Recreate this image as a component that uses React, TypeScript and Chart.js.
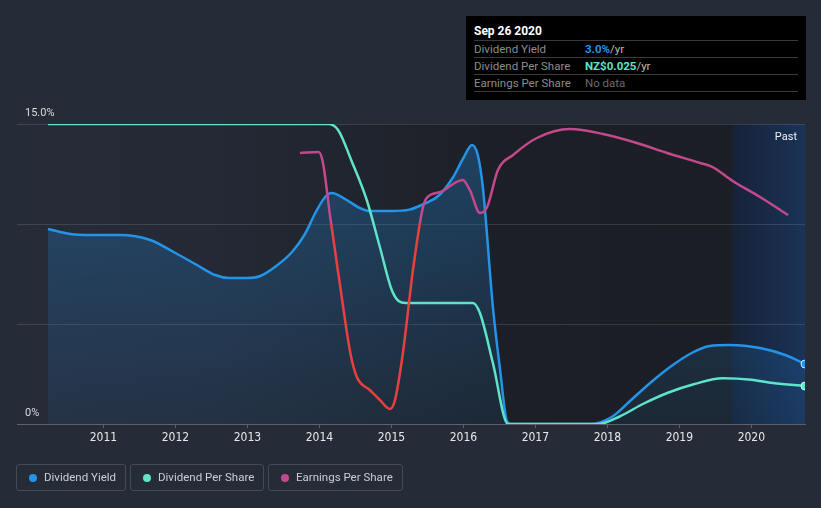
import React, { useEffect, useRef } from 'react';
import { Chart, registerables } from 'chart.js';

Chart.register(...registerables);

// ---- Data ----
const yearTicks = [2011, 2012, 2013, 2014, 2015, 2016, 2017, 2018, 2019, 2020];
const yTickLabels: Record<number, string> = { 15: '15.0%', 0: '0%' };

// Dividend Yield (%)
const yieldX = [2010.23, 2010.54, 2010.82, 2011.23, 2011.65, 2012.0, 2012.3, 2012.55, 2012.75, 2013.0, 2013.18, 2013.4, 2013.62, 2013.8, 2013.95, 2014.08, 2014.17, 2014.38, 2014.56, 2014.7, 2015.0, 2015.25, 2015.45, 2015.65, 2015.85, 2016.0, 2016.12, 2016.2, 2016.27, 2016.41, 2016.51, 2016.6, 2016.65, 2017.76, 2018.06, 2018.33, 2018.61, 2018.89, 2019.17, 2019.42, 2019.7, 2020.12, 2020.47, 2020.745];
const yieldY = [9.75, 9.5, 9.45, 9.45, 9.2, 8.55, 7.95, 7.45, 7.3, 7.3, 7.4, 7.9, 8.6, 9.5, 10.6, 11.35, 11.55, 11.2, 10.8, 10.65, 10.65, 10.72, 11.0, 11.4, 12.3, 13.3, 13.95, 13.45, 11.85, 5.85, 2.7, 0.2, 0, 0, 0.35, 1.2, 2.1, 2.9, 3.55, 3.9, 3.95, 3.8, 3.45, 3.0];

// Dividend Per Share (NZ$)
const dpsX = [2010.23, 2014.12, 2014.26, 2014.45, 2014.66, 2014.84, 2015.0, 2015.1, 2015.2, 2016.13, 2016.23, 2016.41, 2016.62, 2017.88, 2018.17, 2018.5, 2018.85, 2019.2, 2019.6, 2020.0, 2020.3, 2020.745];
const dpsY = [0.2, 0.2, 0.196, 0.175, 0.149, 0.118, 0.09, 0.082, 0.0807, 0.0807, 0.074, 0.0407, 0, 0, 0.005, 0.0135, 0.021, 0.0265, 0.0305, 0.0295, 0.0273, 0.0253];

// Earnings Per Share (NZ$)
const epsX = [2013.73, 2013.99, 2014.05, 2014.15, 2014.29, 2014.43, 2014.52, 2014.7, 2014.84, 2014.98, 2015.05, 2015.16, 2015.3, 2015.43, 2015.49, 2015.68, 2015.99, 2016.09, 2016.23, 2016.33, 2016.48, 2016.69, 2017.02, 2017.48, 2017.94, 2018.41, 2018.83, 2019.29, 2019.46, 2019.74, 2020.12, 2020.51];
const epsY = [0.071, 0.072, 0.061, 0.007, -0.063, -0.129, -0.153, -0.166, -0.176, -0.185, -0.176, -0.129, -0.046, 0.014, 0.026, 0.032, 0.044, 0.034, 0.011, 0.017, 0.054, 0.069, 0.086, 0.095, 0.09, 0.081, 0.071, 0.061, 0.057, 0.043, 0.027, 0.009];

const pastStart = 2019.73;

const BLUE = '#2394e8';
const TEAL = '#5fe3c9';
const MAGENTA = '#c4488c';
const RED = '#e8403f';
const FONT = 'Roboto, "Noto Sans", sans-serif';

const toPts = (xs: number[], ys: number[]) => xs.map((x, i) => ({ x, y: ys[i] }));

const bgPlugin = {
  id: 'bgPlugin',
  beforeDraw(chart: any) {
    const { ctx, chartArea: a, scales } = chart;
    if (!a) return;
    ctx.save();
    const g = ctx.createLinearGradient(a.left, 0, a.right, 0);
    g.addColorStop(0, '#262b38');
    g.addColorStop(0.25, '#242935');
    g.addColorStop(0.62, '#1c1f26');
    g.addColorStop(1, '#1b1e24');
    ctx.fillStyle = g;
    ctx.fillRect(a.left, a.top, a.right - a.left, a.bottom - a.top);
    const px = scales.x.getPixelForValue(pastStart);
    const g2 = ctx.createLinearGradient(px, 0, a.right, 0);
    g2.addColorStop(0, '#172236');
    g2.addColorStop(1, '#1a3358');
    ctx.fillStyle = g2;
    ctx.fillRect(px, a.top, a.right - px, a.bottom - a.top);
    ctx.restore();
  },
  afterDatasetsDraw(chart: any) {
    const { ctx, chartArea: a } = chart;
    ctx.save();
    ctx.fillStyle = '#f0f0f0';
    ctx.font = '11px ' + FONT;
    ctx.textAlign = 'right';
    ctx.textBaseline = 'middle';
    ctx.fillText('Past', a.right - 8, a.top + 13);
    ctx.restore();
  },
};

export default function App() {
  const ref = useRef<HTMLCanvasElement>(null);

  useEffect(() => {
    document.body.style.margin = '0';
    document.body.style.background = '#262b38';
    const canvas = ref.current!;
    const chart = new Chart(canvas, {
      type: 'line',
      data: {
        datasets: [
          {
            label: 'Dividend Yield',
            data: toPts(yieldX, yieldY),
            yAxisID: 'y',
            borderColor: BLUE,
            borderWidth: 2.5,
            cubicInterpolationMode: 'monotone',
            fill: 'origin',
            backgroundColor: (c: any) => {
              const a = c.chart.chartArea;
              if (!a) return 'rgba(33,150,243,0.2)';
              const g = c.chart.ctx.createLinearGradient(0, a.top, 0, a.bottom);
              g.addColorStop(0, 'rgba(33,150,243,0.3)');
              g.addColorStop(1, 'rgba(33,150,243,0.08)');
              return g;
            },
            pointRadius: (c: any) => (c.dataIndex === yieldX.length - 1 ? 4 : 0),
            pointBackgroundColor: BLUE,
            pointBorderColor: '#cfe6fa',
            pointBorderWidth: 1,
            order: 3,
          },
          {
            label: 'Dividend Per Share',
            data: toPts(dpsX, dpsY),
            yAxisID: 'yDps',
            borderColor: TEAL,
            borderWidth: 2.5,
            cubicInterpolationMode: 'monotone',
            fill: false,
            pointRadius: (c: any) => (c.dataIndex === dpsX.length - 1 ? 4 : 0),
            pointBackgroundColor: TEAL,
            pointBorderColor: '#d6f7f0',
            pointBorderWidth: 1,
            order: 2,
          },
          {
            label: 'Earnings Per Share',
            data: toPts(epsX, epsY),
            yAxisID: 'yEps',
            borderColor: (c: any) => {
              const ch = c.chart;
              const a = ch.chartArea;
              if (!a || !ch.scales.yEps) return MAGENTA;
              const y0 = ch.scales.yEps.getPixelForValue(0);
              const s = Math.min(1, Math.max(0, (y0 - a.top) / (a.bottom - a.top)));
              const g = ch.ctx.createLinearGradient(0, a.top, 0, a.bottom);
              g.addColorStop(0, MAGENTA);
              g.addColorStop(s, MAGENTA);
              g.addColorStop(s, RED);
              g.addColorStop(1, RED);
              return g;
            },
            borderWidth: 2.5,
            cubicInterpolationMode: 'monotone',
            fill: false,
            pointRadius: 0,
            order: 1,
          },
        ],
      },
      options: {
        animation: false,
        responsive: true,
        maintainAspectRatio: false,
        layout: { padding: { left: 17, right: 16, top: 124, bottom: 0 } },
        plugins: { legend: { display: false }, tooltip: { enabled: false } },
        scales: {
          x: {
            type: 'linear',
            min: 2009.8,
            max: 2020.745,
            afterFit: (s: any) => { s.height = 84; },
            afterBuildTicks: (s: any) => { s.ticks = yearTicks.map((v) => ({ value: v })); },
            border: { color: '#5b606b', width: 1 },
            grid: { drawOnChartArea: false, drawTicks: true, tickLength: 4, color: '#5b606b' },
            ticks: {
              color: '#e8e8e8',
              font: { family: '"Liberation Sans Narrow", "DejaVu Sans Condensed", Roboto, sans-serif', size: 12 },
              padding: 3,
              maxRotation: 0,
              autoSkip: false,
              callback: (v: any) => String(v),
            },
          },
          y: {
            position: 'left',
            min: 0,
            max: 15,
            afterFit: (s: any) => { s.width = 0; },
            border: { display: false },
            grid: { color: 'rgba(255,255,255,0.12)', drawTicks: false },
            ticks: {
              stepSize: 5,
              mirror: true,
              padding: 8,
              labelOffset: -11,
              color: '#dcdcdc',
              font: { family: FONT, size: 11 },
              callback: (v: any) => (yTickLabels[v] !== undefined ? yTickLabels[v] : ''),
            },
          },
          yDps: { display: false, min: 0, max: 0.2 },
          yEps: { display: false, min: -0.2, max: 0.1 },
        },
      },
      plugins: [bgPlugin],
    } as any);
    return () => chart.destroy();
  }, []);

  const legendItems = [
    { label: 'Dividend Yield', color: BLUE, left: 16, width: 110 },
    { label: 'Dividend Per Share', color: TEAL, left: 130, width: 134 },
    { label: 'Earnings Per Share', color: MAGENTA, left: 268, width: 135 },
  ];

  const rows = [
    { label: 'Dividend Yield', value: '3.0%', color: BLUE, suffix: ' /yr' },
    { label: 'Dividend Per Share', value: 'NZ$0.025', color: TEAL, suffix: ' /yr' },
    { label: 'Earnings Per Share', value: 'No data', color: '#6a6a6a', suffix: '', normal: true },
  ];

  return (
    <div style={{ position: 'relative', width: 821, height: 508, background: '#262b38', fontFamily: FONT, overflow: 'hidden' }}>
      <canvas ref={ref} style={{ position: 'absolute', left: 0, top: 0 }} />
      <div style={{ position: 'absolute', left: 466, top: 16, width: 340, height: 84, background: '#000', boxSizing: 'border-box', padding: '0 8px' }}>
        <div style={{ color: '#fff', fontWeight: 700, fontSize: 12, height: 24, lineHeight: '30px', borderBottom: '1px solid #3a3a3a', overflow: 'visible' }}>Sep 26 2020</div>
        {rows.map((r) => (
          <div key={r.label} style={{ display: 'flex', height: 16, lineHeight: '16px', fontSize: 11.5, borderBottom: '1px solid #3a3a3a' }}>
            <span style={{ color: '#8c8c8c', width: 111 }}>{r.label}</span>
            <span style={{ color: r.color, fontWeight: r.normal ? 400 : 700 }}>{r.value}</span>
            <span style={{ color: '#bdbdbd' }}>{r.suffix}</span>
          </div>
        ))}
      </div>
      {legendItems.map((it) => (
        <div key={it.label} style={{ position: 'absolute', left: it.left, top: 464, width: it.width, height: 27, boxSizing: 'border-box', border: '1px solid #454a57', borderRadius: 3 }}>
          <span style={{ position: 'absolute', left: 12, top: 9, width: 8, height: 8, borderRadius: '50%', background: it.color }} />
          <span style={{ position: 'absolute', left: 27, top: 0, lineHeight: '25px', fontSize: 11.5, color: '#c9cdd4', whiteSpace: 'nowrap' }}>{it.label}</span>
        </div>
      ))}
    </div>
  );
}
